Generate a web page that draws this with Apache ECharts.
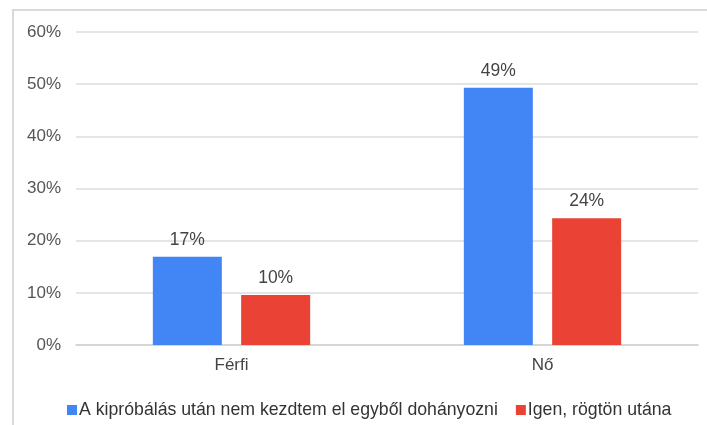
<!DOCTYPE html>
<html lang="hu">
  <head>
    <meta charset="UTF-8" />
    <title>echarts</title>
    <style>
      html, body { margin: 0; padding: 0; background: #fff; }
      #main { width: 707px; height: 425px; }
    </style>
  </head>
  <body>
    <div id="main"></div>
    <script src="https://cdn.jsdelivr.net/npm/echarts@6/dist/echarts.min.js"></script>
    <script>
      const myChart = echarts.init(document.getElementById('main'))
      // kategóriák
      var categories = ['Férfi', 'Nő']
      var seriesNames = ['A kipróbálás után nem kezdtem el egyből dohányozni', 'Igen, rögtön utána']
      var data1 = [0.169, 0.493] // kék
      var data2 = [0.096, 0.243] // piros
      var yTicks = [0, 0.1, 0.2, 0.3, 0.4, 0.5, 0.6]

      var font = 'Liberation Sans, Arial, sans-serif'
      var pct = function (v) { return Math.round(v * 100) + '%' }

      option = {
        backgroundColor: '#fff',
        animation: false,
        textStyle: { fontFamily: font },
        graphic: [
          {
            type: 'rect',
            shape: { x: 13, y: 10, width: 710, height: 430 },
            style: { fill: 'none', stroke: '#d9d9d9', lineWidth: 2 }
          }
        ],
        legend: {
          top: 396,
          left: 62,
          padding: 5,
          itemWidth: 10,
          itemHeight: 10,
          itemGap: 18,
          icon: 'rect',
          textStyle: { color: '#333', fontSize: 17.7, fontFamily: font, padding: [0, 0, 0, -3] },
          data: seriesNames
        },
        grid: { left: 76, right: 9, top: 32, bottom: 80 },
        xAxis: {
          type: 'category',
          data: categories,
          axisLine: { show: true, lineStyle: { color: '#d0d0d0', width: 1.5 } },
          axisTick: { show: false },
          axisLabel: { color: '#444', fontSize: 17, margin: 12, fontFamily: font }
        },
        yAxis: {
          type: 'value',
          min: yTicks[0],
          max: yTicks[yTicks.length - 1],
          interval: 0.1,
          axisLine: { show: false },
          axisTick: { show: false },
          splitLine: { lineStyle: { color: '#dcdcdc', width: 1.5 } },
          axisLabel: { color: '#555', fontSize: 17, margin: 15, fontFamily: font, formatter: pct }
        },
        series: [
          {
            name: seriesNames[0],
            type: 'bar',
            data: data1,
            barWidth: 69,
            barGap: '28%',
            itemStyle: { color: '#4285f4' },
            label: { show: true, position: 'top', distance: 8, color: '#444', fontSize: 17.5, fontFamily: font, formatter: function (p) { return pct(p.value) } }
          },
          {
            name: seriesNames[1],
            type: 'bar',
            data: data2,
            barWidth: 69,
            itemStyle: { color: '#ea4335' },
            label: { show: true, position: 'top', distance: 8, color: '#444', fontSize: 17.5, fontFamily: font, formatter: function (p) { return pct(p.value) } }
          }
        ]
      }

      myChart.setOption(option)
    </script>
  </body>
</html>
